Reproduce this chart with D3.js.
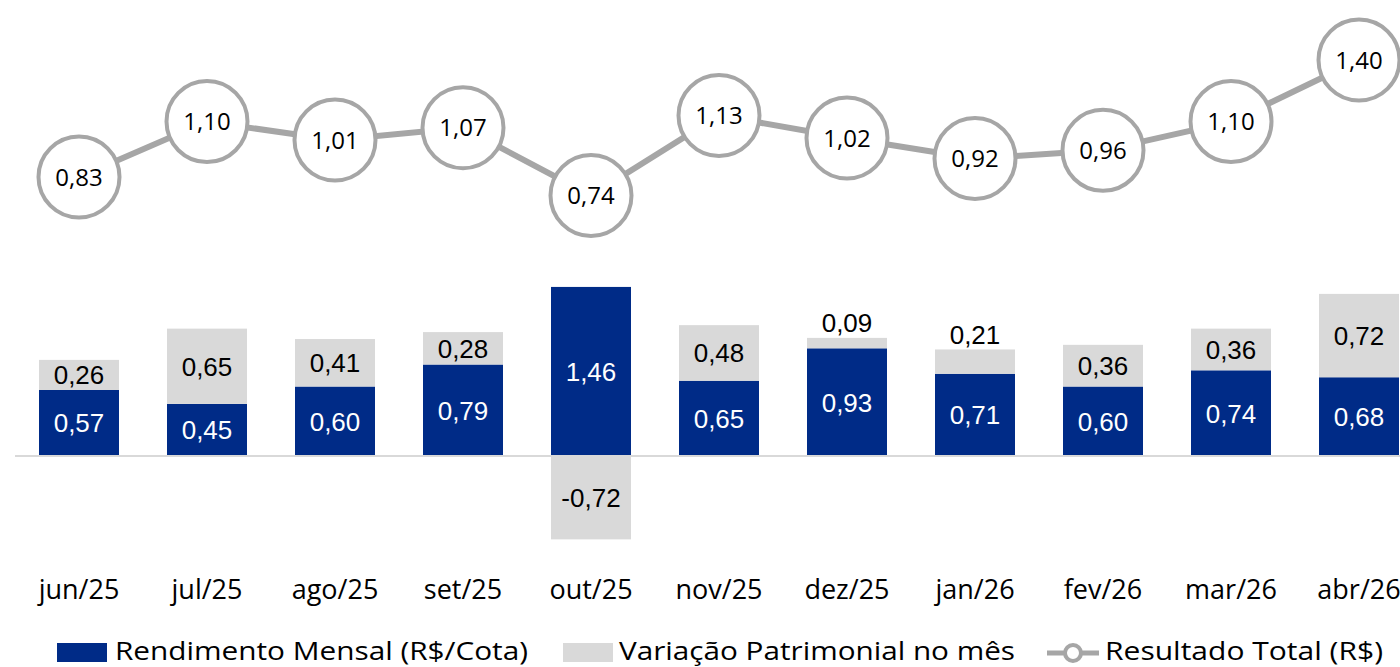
<!DOCTYPE html>
<html>
<head>
<meta charset="utf-8">
<script src="https://cdn.jsdelivr.net/npm/d3@7"></script>
<style>
  html, body { margin: 0; padding: 0; background: #fff; }
  svg { display: block; }
</style>
</head>
<body>
<svg id="chart" width="1400" height="667"></svg>
<script>
// Monthly figures per quota (R$)
const months = ["jun/25", "jul/25", "ago/25", "set/25", "out/25", "nov/25", "dez/25", "jan/26", "fev/26", "mar/26", "abr/26"];
const rendimento = [0.57, 0.45, 0.60, 0.79, 1.46, 0.65, 0.93, 0.71, 0.60, 0.74, 0.68];
const variacao = [0.26, 0.65, 0.41, 0.28, -0.72, 0.48, 0.09, 0.21, 0.36, 0.36, 0.72];
const resultado = [0.83, 1.10, 1.01, 1.07, 0.74, 1.13, 1.02, 0.92, 0.96, 1.10, 1.40];
const legendLabels = ["Rendimento Mensal (R$/Cota)", "Variação Patrimonial no mês", "Resultado Total (R$)"];

const NAVY = "#002B87";
const GREY = "#D9D9D9";
const LINE = "#A6A6A6";
// Brazilian decimal comma, plain hyphen for negatives
const fmt = v => d3.format(".2f")(v).replace("\u2212", "-").replace(".", ",");

const svg = d3.select("#chart");

// Category axis: 128px per month, bars 80px wide
const x = d3.scaleBand()
  .domain(months)
  .range([15, 15 + 128 * months.length])
  .paddingInner(0.375)
  .paddingOuter(0.1875);

// Primary axis for the stacked bars
const zeroY = 456, unit = 115.8;
const yBar = d3.scaleLinear().domain([-1, 2]).range([zeroY + unit, zeroY - 2 * unit]);

// Secondary axis for the total result line
const yLine = d3.scaleLinear().domain([0.74, 1.40]).range([195.5, 60]);

// Stacked bars: rendimento from zero, variação stacked on top (or below if negative)
const rows = months.map((m, i) => ({ m, r: rendimento[i], v: variacao[i], t: resultado[i] }));

const g = svg.append("g");

g.selectAll("rect.rend").data(rows).join("rect")
  .attr("class", "rend")
  .attr("x", d => x(d.m))
  .attr("width", x.bandwidth())
  .attr("y", d => yBar(d.r))
  .attr("height", d => yBar(0) - yBar(d.r))
  .attr("fill", NAVY);

g.selectAll("rect.var").data(rows).join("rect")
  .attr("class", "var")
  .attr("x", d => x(d.m))
  .attr("width", x.bandwidth())
  .attr("y", d => d.v >= 0 ? yBar(d.r + d.v) : yBar(0))
  .attr("height", d => Math.abs(yBar(0) - yBar(d.v)))
  .attr("fill", GREY);

// Baseline
svg.append("line")
  .attr("x1", 15).attr("x2", 1400)
  .attr("y1", yBar(0)).attr("y2", yBar(0))
  .attr("stroke", GREY).attr("stroke-width", 2);

const barFont = "'Liberation Sans', Arial, sans-serif";

// Rendimento labels (white, centred)
g.selectAll("text.rl").data(rows).join("text")
  .attr("class", "rl")
  .attr("x", d => x(d.m) + x.bandwidth() / 2)
  .attr("y", d => (yBar(0) + yBar(d.r)) / 2)
  .attr("dy", "0.36em")
  .attr("text-anchor", "middle")
  .attr("font-family", barFont)
  .attr("font-size", 26)
  .attr("fill", "#fff")
  .text(d => fmt(d.r));

// Variação labels: centred in the segment, or just above it when the segment is too thin
g.selectAll("text.vl").data(rows).join("text")
  .attr("class", "vl")
  .attr("x", d => x(d.m) + x.bandwidth() / 2)
  .attr("y", d => {
    if (d.v < 0) return (yBar(0) + yBar(d.v)) / 2;
    const top = yBar(d.r + d.v), bot = yBar(d.r);
    return (bot - top) < 28 ? top - 15 : (top + bot) / 2;
  })
  .attr("dy", "0.36em")
  .attr("text-anchor", "middle")
  .attr("font-family", barFont)
  .attr("font-size", 26)
  .attr("fill", "#000")
  .text(d => fmt(d.v));

// Total result line with circular markers
const line = d3.line()
  .x(d => x(d.m) + x.bandwidth() / 2)
  .y(d => yLine(d.t));

svg.append("path")
  .datum(rows)
  .attr("d", line)
  .attr("fill", "none")
  .attr("stroke", LINE)
  .attr("stroke-width", 6);

const pts = svg.append("g").selectAll("g").data(rows).join("g")
  .attr("transform", d => `translate(${x(d.m) + x.bandwidth() / 2},${yLine(d.t)})`);

pts.append("circle")
  .attr("r", 40.5)
  .attr("fill", "#fff")
  .attr("stroke", LINE)
  .attr("stroke-width", 4);

pts.append("text")
  .attr("text-anchor", "middle")
  .attr("dy", "0.36em")
  .attr("font-family", "'Open Sans', sans-serif")
  .attr("font-size", 24)
  .attr("fill", "#000")
  .text(d => fmt(d.t));

// Month labels
svg.append("g").selectAll("text").data(months).join("text")
  .attr("x", d => x(d) + x.bandwidth() / 2)
  .attr("y", 599)
  .attr("text-anchor", "middle")
  .attr("font-family", "'Open Sans', sans-serif")
  .attr("font-size", 27)
  .attr("fill", "#000")
  .text(d => d);

// Legend
const legendFont = "'Liberation Sans Narrow', 'Open Sans', sans-serif";
const leg = svg.append("g");
const legItems = [
  { type: "rect", color: NAVY, sx: 57, tx: 115, tw: 413 },
  { type: "rect", color: GREY, sx: 563, tx: 619, tw: 396 },
  { type: "line", color: LINE, sx: 1047, tx: 1105, tw: 278 }
];
legItems.forEach((it, i) => {
  if (it.type === "rect") {
    leg.append("rect").attr("x", it.sx).attr("y", 643).attr("width", 50).attr("height", 19).attr("fill", it.color);
  } else {
    leg.append("line").attr("x1", it.sx).attr("x2", it.sx + 52).attr("y1", 653).attr("y2", 653)
      .attr("stroke", it.color).attr("stroke-width", 5);
    leg.append("circle").attr("cx", it.sx + 26).attr("cy", 653).attr("r", 8)
      .attr("fill", "#fff").attr("stroke", it.color).attr("stroke-width", 4);
  }
  leg.append("text")
    .attr("x", it.tx).attr("y", 660)
    .attr("font-family", legendFont)
    .attr("font-size", 25)
    .attr("fill", "#000")
    .attr("textLength", it.tw)
    .attr("lengthAdjust", "spacingAndGlyphs")
    .text(legendLabels[i]);
});
</script>
</body>
</html>
